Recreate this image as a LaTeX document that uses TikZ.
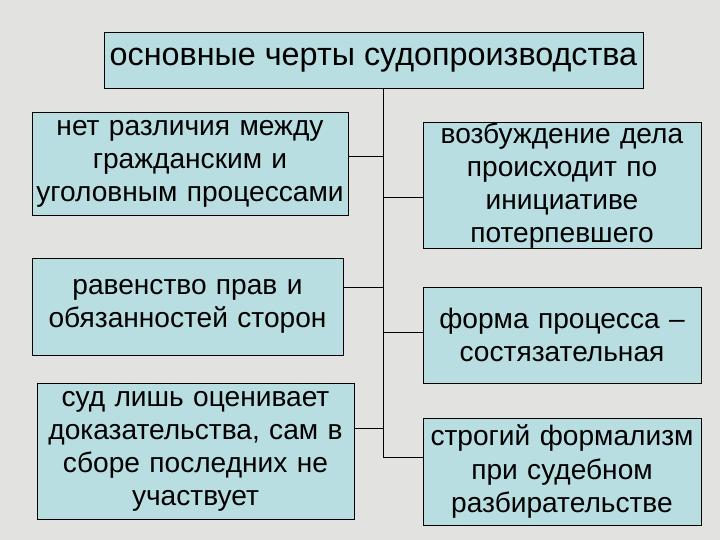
\documentclass[tikz,border=0pt]{standalone}
\usepackage{fontspec}
\setmainfont{Liberation Sans}
\begin{document}
\begin{tikzpicture}
		\definecolor{granite}{RGB}{226,226,224}
		\definecolor{boxfill}{RGB}{184,222,225}
		\tikzset{feature/.style = {shape=rectangle,draw,fill=boxfill,line width=.6pt,inner sep=0pt,align=center,font=\fontsize{20}{23.5}\selectfont}}
		\tikzset{link/.style = {draw,line width=.6pt}}
		\fill[granite] (0,0) rectangle (18,-13.5);
		\useasboundingbox (0,0) rectangle (18,-13.5);
		\node[feature,minimum width=13.475cm,minimum height=1.4cm,font=\fontsize{23}{26}\selectfont] (title) at (9.3375,-1.5) {основные черты судопроизводства};
		\node[feature,minimum width=7.9cm,minimum height=2.575cm,text width=7.8cm] (l1) at (4.75,-4.1) {нет различия между\\гражданским и\\уголовным процессами};
		\node[feature,minimum width=7.775cm,minimum height=2.425cm,text width=7.6cm] (l2) at (4.6875,-7.6625) {равенство прав и\\обязанностей сторон};
		\node[feature,minimum width=7.925cm,minimum height=3.4cm,text width=7.8cm] (l3) at (4.8875,-11.275) {суд лишь оценивает\\доказательства, сам в\\сборе последних не\\участвует};
		\node[feature,minimum width=6.95cm,minimum height=3.125cm,text width=6.8cm] (r1) at (14.05,-4.6375) {возбуждение дела\\происходит по\\инициативе\\потерпевшего};
		\node[feature,minimum width=6.95cm,minimum height=2.4cm,text width=6.8cm] (r2) at (14.05,-8.375) {форма процесса --\\состязательная};
		\node[feature,minimum width=6.95cm,minimum height=2.675cm,text width=6.8cm] (r3) at (14.05,-11.7875) {строгий формализм\\при судебном\\разбирательстве};
		% points on the trunk
		\coordinate (t1) at (9.575,-3.9);
		\coordinate (t2) at (9.575,-4.925);
		\coordinate (t3) at (9.575,-7.175);
		\coordinate (t4) at (9.575,-8.3);
		\coordinate (t5) at (9.575,-10.7);
		\coordinate (t6) at (9.575,-11.425);
		\path[link] (title.south -| t6) -- (t6) -- (r3.west |- t6);
		\path[link] (l1.east |- t1) -- (t1);
		\path[link] (t2) -- (r1.west |- t2);
		\path[link] (l2.east |- t3) -- (t3);
		\path[link] (t4) -- (r2.west |- t4);
		\path[link] (l3.east |- t5) -- (t5);
	\end{tikzpicture}
\end{document}
